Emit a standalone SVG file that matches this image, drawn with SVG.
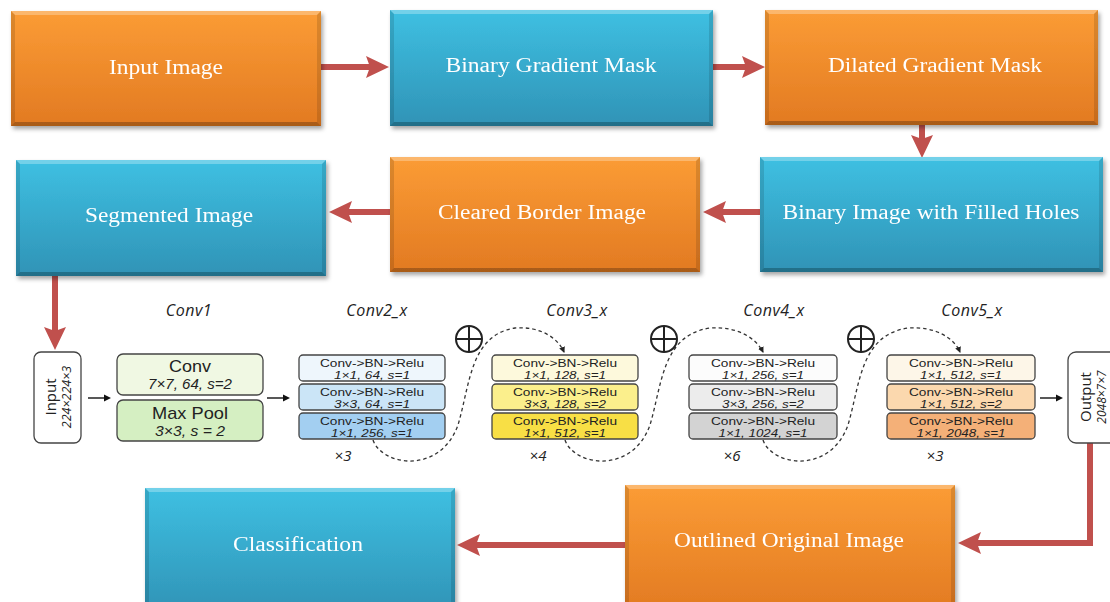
<svg xmlns="http://www.w3.org/2000/svg" width="1110" height="602" viewBox="0 0 1110 602">
  <defs>
    <linearGradient id="gOrange" x1="0" y1="0" x2="0" y2="1">
      <stop offset="0" stop-color="#fb9c35"/>
      <stop offset="1" stop-color="#e27a22"/>
    </linearGradient>
    <linearGradient id="gBlue" x1="0" y1="0" x2="0" y2="1">
      <stop offset="0" stop-color="#3ec0e2"/>
      <stop offset="1" stop-color="#3093b6"/>
    </linearGradient>
    <filter id="shadow" x="-5%" y="-5%" width="112%" height="115%">
      <feDropShadow dx="2" dy="3" stdDeviation="2" flood-color="#000" flood-opacity="0.35"/>
    </filter>
    <marker id="redHead" markerUnits="userSpaceOnUse" markerWidth="24" markerHeight="22" refX="4" refY="11" orient="auto">
      <path d="M0,0 L23,11 L0,22 L4,11 z" fill="#c0504d"/>
    </marker>
    <marker id="blackHead" markerUnits="userSpaceOnUse" markerWidth="8" markerHeight="8" refX="1" refY="4" orient="auto">
      <path d="M0,0.5 L7,4 L0,7.5 z" fill="#111"/>
    </marker>
    <marker id="dashHead" markerUnits="userSpaceOnUse" markerWidth="7" markerHeight="7" refX="5" refY="3.5" orient="auto">
      <path d="M0,0.5 L6,3.5 L0,6.5 z" fill="#222"/>
    </marker>
    <style>
      .orange { fill: url(#gOrange); }
      .blue { fill: url(#gBlue); }
      .bevTop { fill: #ffffff; fill-opacity: 0.28; }
      .bevSide { fill: #000000; fill-opacity: 0.12; }
      .bevBot { fill: #000000; fill-opacity: 0.25; }
      .big { font-family: "Liberation Serif", serif; font-size: 20px; fill: #ffffff; text-anchor: middle; }
      .red { stroke: #c0504d; stroke-width: 6; fill: none; }
      .thin { stroke: #111; stroke-width: 1.4; fill: none; }
      .dash { stroke: #333; stroke-width: 1.3; fill: none; stroke-dasharray: 3.5 3; }
      .lbl { font-family: "Open Sans", "Noto Sans", sans-serif; font-style: italic; font-size: 16px; letter-spacing: 0.5px; fill: #222; text-anchor: middle; }
      .mul { font-family: "Open Sans", "Noto Sans", sans-serif; font-style: italic; font-size: 15px; fill: #222; text-anchor: middle; }
      .blk { stroke: #444; stroke-width: 1.3; }
      .t1 { font-family: "Liberation Sans", "Open Sans", sans-serif; font-size: 11px; fill: #222; text-anchor: middle; }
      .t2 { font-family: "Liberation Sans", "Open Sans", sans-serif; font-style: italic; font-size: 11px; fill: #222; text-anchor: middle; }
      .t3 { font-family: "Open Sans", "Noto Sans", sans-serif; font-size: 16px; fill: #222; text-anchor: middle; }
      .t4 { font-family: "Open Sans", "Noto Sans", sans-serif; font-style: italic; font-size: 14px; fill: #222; text-anchor: middle; }
      .c1 { font-family: "Liberation Sans", "Open Sans", sans-serif; font-size: 16px; fill: #222; text-anchor: middle; }
      .c2 { font-family: "Liberation Sans", "Open Sans", sans-serif; font-style: italic; font-size: 14px; fill: #222; text-anchor: middle; }
      .plus { stroke: #222; stroke-width: 2; fill: #fff; }
    </style>
  </defs>

  <rect width="1110" height="602" fill="#ffffff"/>

  <!-- connectors -->
  <g id="connectors">
    <line class="red" x1="321" y1="67" x2="370" y2="67" marker-end="url(#redHead)"/>
    <line class="red" x1="713" y1="67" x2="746" y2="67" marker-end="url(#redHead)"/>
    <line class="red" x1="922" y1="125" x2="922" y2="139" marker-end="url(#redHead)"/>
    <line class="red" x1="760" y1="212" x2="722" y2="212" marker-end="url(#redHead)"/>
    <line class="red" x1="390" y1="212" x2="348" y2="212" marker-end="url(#redHead)"/>
    <line class="red" x1="55" y1="276" x2="55" y2="331" marker-end="url(#redHead)"/>
    <polyline class="red" points="1090,443 1090,543 977,543" marker-end="url(#redHead)"/>
    <line class="red" x1="625" y1="545" x2="476" y2="545" marker-end="url(#redHead)"/>

    <line class="thin" x1="88" y1="398" x2="105" y2="398" marker-end="url(#blackHead)"/>
    <line class="thin" x1="267" y1="398" x2="284" y2="398" marker-end="url(#blackHead)"/>
    <line class="thin" x1="1040" y1="398" x2="1057" y2="398" marker-end="url(#blackHead)"/>

    <path class="dash" d="M373,440 C382,466 440,475 458,425 C470,385 470,335 515,328 C540,326 558,338 564,352" marker-end="url(#dashHead)"/>
    <path class="dash" d="M565,440 C574,466 632,475 650,425 C662,385 662,335 710,328 C737,326 756,338 763,352" marker-end="url(#dashHead)"/>
    <path class="dash" d="M763,440 C772,466 830,475 848,425 C860,385 860,335 908,328 C935,326 954,338 960,352" marker-end="url(#dashHead)"/>
  </g>

  <!-- pipeline nodes -->
  <g id="input-image" filter="url(#shadow)">
    <rect class="orange" x="11" y="11" width="310" height="115"/>
    <polygon class="bevTop" points="11,11 321,11 317,15 15,15"/>
    <polygon class="bevSide" points="11,11 15,15 15,122 11,126"/>
    <polygon class="bevSide" points="321,11 321,126 317,122 317,15"/>
    <polygon class="bevBot" points="11,126 15,122 317,122 321,126"/>
    <text class="big" x="166" y="74" textLength="114" lengthAdjust="spacingAndGlyphs">Input Image</text>
  </g>

  <g id="binary-gradient-mask" filter="url(#shadow)">
    <rect class="blue" x="390" y="10" width="323" height="116"/>
    <polygon class="bevTop" points="390,10 713,10 709,14 394,14"/>
    <polygon class="bevSide" points="390,10 394,14 394,122 390,126"/>
    <polygon class="bevSide" points="713,10 713,126 709,122 709,14"/>
    <polygon class="bevBot" points="390,126 394,122 709,122 713,126"/>
    <text class="big" x="551" y="72" textLength="211" lengthAdjust="spacingAndGlyphs">Binary Gradient Mask</text>
  </g>

  <g id="dilated-gradient-mask" filter="url(#shadow)">
    <rect class="orange" x="765" y="10" width="333" height="115"/>
    <polygon class="bevTop" points="765,10 1098,10 1094,14 769,14"/>
    <polygon class="bevSide" points="765,10 769,14 769,121 765,125"/>
    <polygon class="bevSide" points="1098,10 1098,125 1094,121 1094,14"/>
    <polygon class="bevBot" points="765,125 769,121 1094,121 1098,125"/>
    <text class="big" x="935" y="72" textLength="214" lengthAdjust="spacingAndGlyphs">Dilated Gradient Mask</text>
  </g>

  <g id="segmented-image" filter="url(#shadow)">
    <rect class="blue" x="16" y="160" width="310" height="116"/>
    <polygon class="bevTop" points="16,160 326,160 322,164 20,164"/>
    <polygon class="bevSide" points="16,160 20,164 20,272 16,276"/>
    <polygon class="bevSide" points="326,160 326,276 322,272 322,164"/>
    <polygon class="bevBot" points="16,276 20,272 322,272 326,276"/>
    <text class="big" x="169" y="222" textLength="168" lengthAdjust="spacingAndGlyphs">Segmented Image</text>
  </g>

  <g id="cleared-border-image" filter="url(#shadow)">
    <rect class="orange" x="390" y="157" width="310" height="115"/>
    <polygon class="bevTop" points="390,157 700,157 696,161 394,161"/>
    <polygon class="bevSide" points="390,157 394,161 394,268 390,272"/>
    <polygon class="bevSide" points="700,157 700,272 696,268 696,161"/>
    <polygon class="bevBot" points="390,272 394,268 696,268 700,272"/>
    <text class="big" x="542" y="219" textLength="208" lengthAdjust="spacingAndGlyphs">Cleared Border Image</text>
  </g>

  <g id="binary-filled-holes" filter="url(#shadow)">
    <rect class="blue" x="760" y="157" width="343" height="115"/>
    <polygon class="bevTop" points="760,157 1103,157 1099,161 764,161"/>
    <polygon class="bevSide" points="760,157 764,161 764,268 760,272"/>
    <polygon class="bevSide" points="1103,157 1103,272 1099,268 1099,161"/>
    <polygon class="bevBot" points="760,272 764,268 1099,268 1103,272"/>
    <text class="big" x="931" y="219" textLength="297" lengthAdjust="spacingAndGlyphs">Binary Image with Filled Holes</text>
  </g>

  <g id="classification" filter="url(#shadow)">
    <rect class="blue" x="145" y="488" width="310" height="125"/>
    <polygon class="bevTop" points="145,488 455,488 451,492 149,492"/>
    <polygon class="bevSide" points="145,488 149,492 149,613 145,613"/>
    <polygon class="bevSide" points="455,488 455,613 451,613 451,492"/>
    <text class="big" x="298" y="551" textLength="130" lengthAdjust="spacingAndGlyphs">Classification</text>
  </g>

  <g id="outlined-original-image" filter="url(#shadow)">
    <rect class="orange" x="625" y="485" width="330" height="128"/>
    <polygon class="bevTop" points="625,485 955,485 951,489 629,489"/>
    <polygon class="bevSide" points="625,485 629,489 629,613 625,613"/>
    <polygon class="bevSide" points="955,485 955,613 951,613 951,489"/>
    <text class="big" x="789" y="547" textLength="230" lengthAdjust="spacingAndGlyphs">Outlined Original Image</text>
  </g>

  <!-- network stage labels -->
  <g id="stage-labels">
    <text class="lbl" x="189" y="316">Conv1</text>
    <text class="lbl" x="377" y="316">Conv2_x</text>
    <text class="lbl" x="577" y="316">Conv3_x</text>
    <text class="lbl" x="774" y="316">Conv4_x</text>
    <text class="lbl" x="972" y="316">Conv5_x</text>
    <text class="mul" x="343" y="461">×3</text>
    <text class="mul" x="538" y="461">×4</text>
    <text class="mul" x="732" y="461">×6</text>
    <text class="mul" x="935" y="461">×3</text>
  </g>

  <g id="net-input">
    <rect x="34" y="352" width="47" height="91" rx="7" fill="#fff" class="blk"/>
    <text class="t3" transform="translate(56,397) rotate(-90)" style="font-size:15px">Input</text>
    <text class="t4" transform="translate(71,397) rotate(-90)" style="font-size:12.5px">224×224×3</text>
  </g>

  <g id="conv1">
    <rect x="117" y="354" width="146" height="41" rx="6" fill="#f0f8e3" class="blk"/>
    <text class="c1" x="190" y="372" textLength="42" lengthAdjust="spacingAndGlyphs">Conv</text>
    <text class="c2" x="190" y="389" textLength="84" lengthAdjust="spacingAndGlyphs">7×7, 64, s=2</text>
    <rect x="117" y="400" width="146" height="41" rx="6" fill="#d5efc2" class="blk"/>
    <text class="c1" x="190" y="419" style="font-size:17px" textLength="76" lengthAdjust="spacingAndGlyphs">Max Pool</text>
    <text class="c2" x="190" y="436" textLength="70" lengthAdjust="spacingAndGlyphs">3×3, s = 2</text>
  </g>

  <g id="conv2">
    <rect x="299" y="355" width="146" height="26" rx="4" fill="#eef6fc" class="blk"/>
    <text class="t1" x="372" y="366.5" textLength="104" lengthAdjust="spacingAndGlyphs">Conv-&gt;BN-&gt;Relu</text>
    <text class="t2" x="372" y="378.5" textLength="76" lengthAdjust="spacingAndGlyphs">1×1, 64, s=1</text>
    <rect x="299" y="384" width="146" height="26" rx="4" fill="#cbe5f7" class="blk"/>
    <text class="t1" x="372" y="395.5" textLength="104" lengthAdjust="spacingAndGlyphs">Conv-&gt;BN-&gt;Relu</text>
    <text class="t2" x="372" y="407.5" textLength="76" lengthAdjust="spacingAndGlyphs">3×3, 64, s=1</text>
    <rect x="299" y="413" width="146" height="26" rx="4" fill="#a3cff1" class="blk"/>
    <text class="t1" x="372" y="424.5" textLength="104" lengthAdjust="spacingAndGlyphs">Conv-&gt;BN-&gt;Relu</text>
    <text class="t2" x="372" y="436.5" textLength="82" lengthAdjust="spacingAndGlyphs">1×1, 256, s=1</text>
  </g>

  <g id="conv3">
    <rect x="492" y="355" width="146" height="26" rx="4" fill="#fdf9dc" class="blk"/>
    <text class="t1" x="565" y="366.5" textLength="104" lengthAdjust="spacingAndGlyphs">Conv-&gt;BN-&gt;Relu</text>
    <text class="t2" x="565" y="378.5" textLength="82" lengthAdjust="spacingAndGlyphs">1×1, 128, s=1</text>
    <rect x="492" y="384" width="146" height="26" rx="4" fill="#fbef8c" class="blk"/>
    <text class="t1" x="565" y="395.5" textLength="104" lengthAdjust="spacingAndGlyphs">Conv-&gt;BN-&gt;Relu</text>
    <text class="t2" x="565" y="407.5" textLength="82" lengthAdjust="spacingAndGlyphs">3×3, 128, s=2</text>
    <rect x="492" y="413" width="146" height="26" rx="4" fill="#f8df45" class="blk"/>
    <text class="t1" x="565" y="424.5" textLength="104" lengthAdjust="spacingAndGlyphs">Conv-&gt;BN-&gt;Relu</text>
    <text class="t2" x="565" y="436.5" textLength="82" lengthAdjust="spacingAndGlyphs">1×1, 512, s=1</text>
  </g>

  <g id="conv4">
    <rect x="689" y="355" width="148" height="26" rx="4" fill="#fcfcfc" class="blk"/>
    <text class="t1" x="763" y="366.5" textLength="104" lengthAdjust="spacingAndGlyphs">Conv-&gt;BN-&gt;Relu</text>
    <text class="t2" x="763" y="378.5" textLength="82" lengthAdjust="spacingAndGlyphs">1×1, 256, s=1</text>
    <rect x="689" y="384" width="148" height="26" rx="4" fill="#ececec" class="blk"/>
    <text class="t1" x="763" y="395.5" textLength="104" lengthAdjust="spacingAndGlyphs">Conv-&gt;BN-&gt;Relu</text>
    <text class="t2" x="763" y="407.5" textLength="82" lengthAdjust="spacingAndGlyphs">3×3, 256, s=2</text>
    <rect x="689" y="413" width="148" height="26" rx="4" fill="#d3d3d3" class="blk"/>
    <text class="t1" x="763" y="424.5" textLength="104" lengthAdjust="spacingAndGlyphs">Conv-&gt;BN-&gt;Relu</text>
    <text class="t2" x="763" y="436.5" textLength="89" lengthAdjust="spacingAndGlyphs">1×1, 1024, s=1</text>
  </g>

  <g id="conv5">
    <rect x="887" y="355" width="148" height="26" rx="4" fill="#fdf6e8" class="blk"/>
    <text class="t1" x="961" y="366.5" textLength="104" lengthAdjust="spacingAndGlyphs">Conv-&gt;BN-&gt;Relu</text>
    <text class="t2" x="961" y="378.5" textLength="82" lengthAdjust="spacingAndGlyphs">1×1, 512, s=1</text>
    <rect x="887" y="384" width="148" height="26" rx="4" fill="#fbd8ae" class="blk"/>
    <text class="t1" x="961" y="395.5" textLength="104" lengthAdjust="spacingAndGlyphs">Conv-&gt;BN-&gt;Relu</text>
    <text class="t2" x="961" y="407.5" textLength="82" lengthAdjust="spacingAndGlyphs">1×1, 512, s=2</text>
    <rect x="887" y="413" width="148" height="26" rx="4" fill="#f4b078" class="blk"/>
    <text class="t1" x="961" y="424.5" textLength="104" lengthAdjust="spacingAndGlyphs">Conv-&gt;BN-&gt;Relu</text>
    <text class="t2" x="961" y="436.5" textLength="89" lengthAdjust="spacingAndGlyphs">1×1, 2048, s=1</text>
  </g>

  <g id="net-output">
    <rect x="1068" y="352" width="60" height="91" rx="8" fill="#fff" class="blk"/>
    <text class="t3" transform="translate(1091,397) rotate(-90)" style="font-size:15px">Output</text>
    <text class="t4" transform="translate(1106,397) rotate(-90)" style="font-size:12px">2048×7×7</text>
  </g>

  <!-- residual adders -->
  <g id="add1"><circle class="plus" cx="469" cy="339" r="13"/><path d="M456,339 H482 M469,326 V352" stroke="#222" stroke-width="2"/></g>
  <g id="add2"><circle class="plus" cx="664" cy="339" r="13"/><path d="M651,339 H677 M664,326 V352" stroke="#222" stroke-width="2"/></g>
  <g id="add3"><circle class="plus" cx="861" cy="339" r="13"/><path d="M848,339 H874 M861,326 V352" stroke="#222" stroke-width="2"/></g>
</svg>
